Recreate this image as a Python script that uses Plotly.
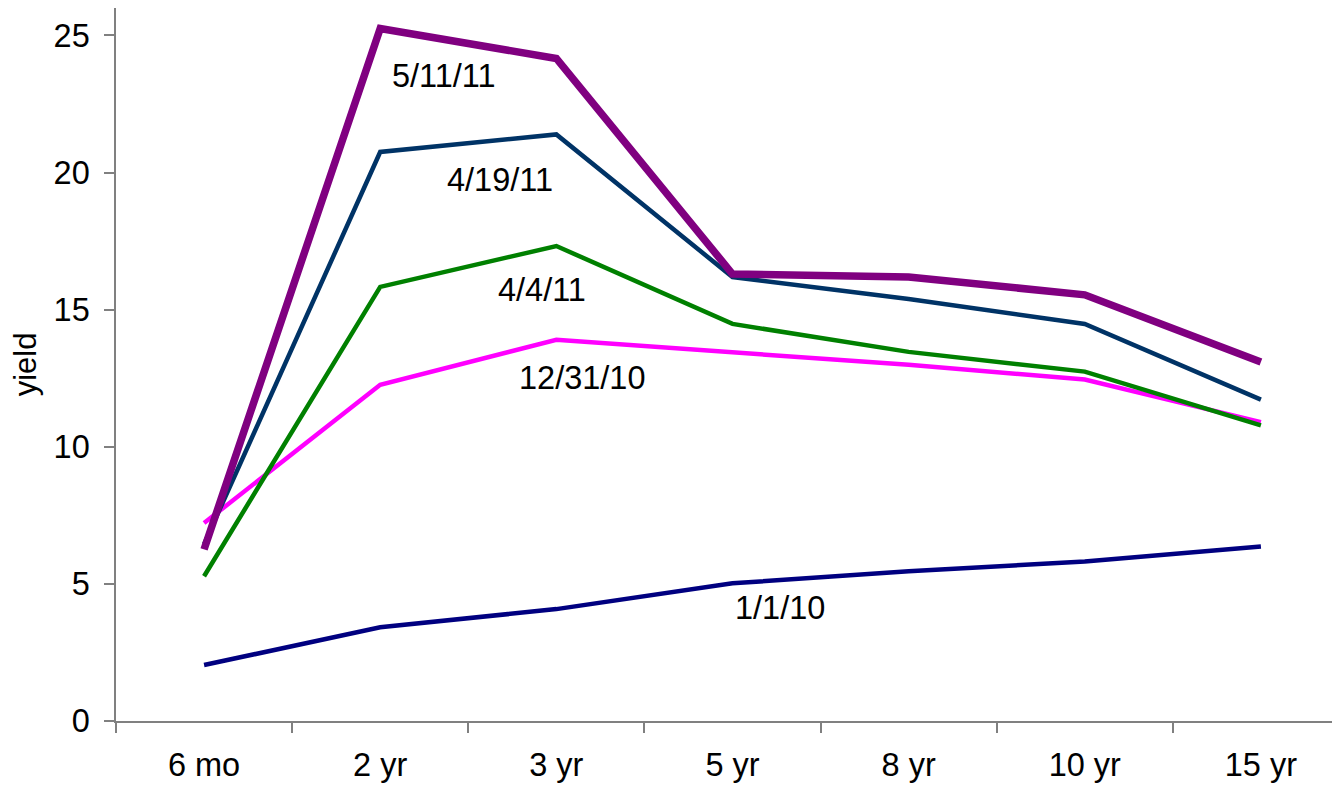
import plotly.graph_objects as go

categories = ["6 mo", "2 yr", "3 yr", "5 yr", "8 yr", "10 yr", "15 yr"]

y_1_1_10 = [2.04, 3.42, 4.08, 5.02, 5.46, 5.82, 6.36]
y_12_31_10 = [7.22, 12.26, 13.90, 13.46, 12.99, 12.45, 10.90]
y_4_4_11 = [5.28, 15.83, 17.32, 14.48, 13.46, 12.74, 10.78]
y_4_19_11 = [6.45, 20.75, 21.39, 16.19, 15.39, 14.48, 11.72]
y_5_11_11 = [6.26, 25.25, 24.16, 16.30, 16.19, 15.54, 13.09]

series_names = ["1/1/10", "12/31/10", "4/4/11", "4/19/11", "5/11/11"]
series_values = [y_1_1_10, y_12_31_10, y_4_4_11, y_4_19_11, y_5_11_11]
series_colors = ["#000080", "#FF00FF", "#008000", "#003366", "#800080"]
series_widths = [4.5, 4.5, 4.5, 4.5, 7.5]

label_x = [3.27, 2.15, 1.92, 1.68, 1.36]
label_y = [4.13, 12.5, 15.71, 19.72, 23.51]

FONT = "Liberation Sans, Arial, sans-serif"

fig = go.Figure()
for name, vals, col, w in zip(series_names, series_values, series_colors, series_widths):
    fig.add_trace(go.Scatter(
        x=categories, y=vals, mode="lines", name=name,
        line=dict(color=col, width=w),
    ))

for name, lx, ly in zip(series_names, label_x, label_y):
    fig.add_annotation(
        x=lx, y=ly, xref="x", yref="y", text=name, showarrow=False,
        font=dict(family=FONT, size=32.5, color="#000000"),
        xanchor="center", yanchor="middle",
    )

axis_font = dict(family=FONT, size=32.5, color="#000000")

fig.update_layout(
    width=1332, height=780,
    margin=dict(l=108, r=0, t=0, b=67, autoexpand=False),
    paper_bgcolor="white", plot_bgcolor="white",
    showlegend=False,
    font=axis_font,
)
fig.update_xaxes(
    type="category", range=[-0.5, 6.449],
    showgrid=False, zeroline=False, automargin=False,
    showline=True, linecolor="#808080", linewidth=1.5,
    ticks="outside", tickson="boundaries", ticklen=10, tickcolor="#808080", tickwidth=1.5,
    tickfont=axis_font, ticklabelstandoff=14,
)
fig.update_yaxes(
    range=[0, 26], tickvals=[0, 5, 10, 15, 20, 25],
    showgrid=False, zeroline=False, automargin=False,
    showline=True, linecolor="#808080", linewidth=1.5,
    ticks="outside", ticklen=10, tickcolor="#808080", tickwidth=1.5,
    tickfont=axis_font, ticklabelstandoff=8,
    title=dict(text="yield", font=dict(family=FONT, size=31, color="#000000"), standoff=14),
)

fig.write_html("out.html")
